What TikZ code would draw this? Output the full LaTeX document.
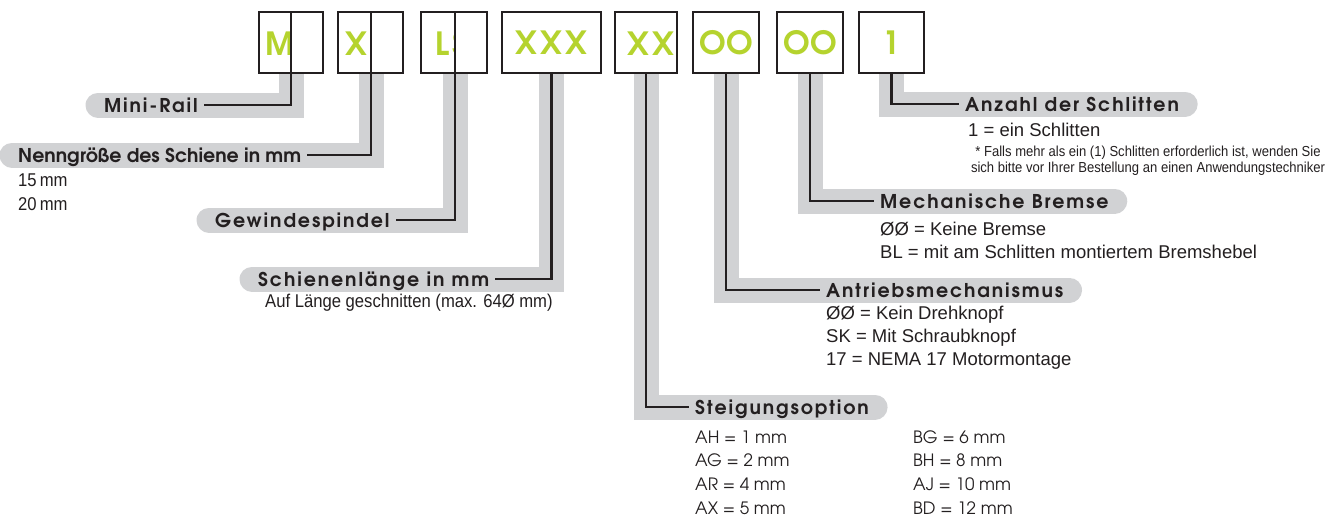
\documentclass[tikz,border=0pt]{standalone}
\usepackage{fontspec}
\setmainfont{Liberation Sans}
\newfontfamily\headfont{texgyreadventor}[Extension=.otf,UprightFont=*-regular,BoldFont=*-bold,LetterSpace=10]
\newfontfamily\headtight{texgyreadventor}[Extension=.otf,UprightFont=*-regular,BoldFont=*-bold]
\newfontfamily\narrowfont{Liberation Sans}[FakeStretch=0.9]
\usetikzlibrary{positioning,backgrounds}
\definecolor{lime}{RGB}{181,211,46}
\definecolor{band}{RGB}{209,210,212}
\definecolor{ink}{RGB}{35,31,32}

\begin{document}
\begin{tikzpicture}[x=1pt,y=-1pt,
            codebox/.style={
              draw=ink, line width=2.4, fill=white, outer sep=0,
              minimum height=61, inner sep=0, anchor=north west,
              text=lime, text height=23, text depth=0,
              font=\headfont\bfseries\fontsize{32}{32}\selectfont
            },
            code/.style={
              text=lime, inner sep=0, anchor=base west,
              font=\headfont\bfseries\fontsize{32}{32}\selectfont
            },
            head/.style={
              font=\headfont\bfseries\fontsize{19}{19}\selectfont,
              text=ink, inner xsep=6, inner ysep=0,
              text height=14, text depth=0
            },
            note/.style={
              font=\fontsize{18.5}{22}\selectfont,
              text=ink, inner sep=0, anchor=west, align=left
            },
            small/.style={
              font=\narrowfont\fontsize{18.5}{24}\selectfont,
              text=ink, inner sep=0, anchor=west, align=left
            },
            opt/.style={
              font=\headtight\fontsize{17}{24}\selectfont,
              text=ink, inner sep=0, anchor=west
            },
            wire/.style={draw=ink, line width=2.4, line join=miter},
            bandline/.style={draw=band, line width=25, line cap=round, line join=miter}
        ]
\useasboundingbox (0,0) rectangle (1331,517);

% code boxes
\node[codebox, minimum width=32] (bM1) at (259,12) {};
\node[code] (tM) at (265,55) {MR};
\node[codebox, minimum width=32] (bM2) at (bM1.north east) {};
\node[codebox, minimum width=33] (bX1) at (338,12) {};
\node[code] (tX) at (345,55) {X};
\node[codebox, minimum width=32] (bX2) at (bX1.north east) {};
\node[codebox, minimum width=34] (bL1) at (421,12) {};
\node[code] (tL) at (435,55) {LS};
\node[codebox, minimum width=32] (bL2) at (bL1.north east) {};
\node[codebox, minimum width=99] (bXXX) at (502,12) {XXX};
\node[codebox, draw=none, minimum width=62] (bXX) at (615,12) {};
\begin{scope}
  \clip (bXX.north west) rectangle (bXX.south east);
  \node[code] (tXX) at (627,55) {XX};
\end{scope}
\draw[ink, line width=2.4] (bXX.north west) rectangle (bXX.south east);
\node[codebox, font=\headtight\bfseries\fontsize{32}{32}\selectfont, minimum width=66] (bDrive) at (693,12) {OO};
\node[codebox, font=\headtight\bfseries\fontsize{32}{32}\selectfont, minimum width=66] (bBrake) at (777,12) {OO};
\node[codebox, minimum width=65] (bCount) at (859,12) {1};

% headings
\node[head, anchor=west] (lMini) at (98,105) {Mini-Rail};
\node[head, font=\headtight\bfseries\fontsize{19}{19}\selectfont, anchor=west] (lSize) at (12,155) {Nenngröße des Schiene in mm};
\node[head, anchor=west] (lSpindle) at (209,220) {Gewindespindel};
\node[head, anchor=west] (lLength) at (252,279) {Schienenlänge in mm};
\node[head, anchor=west] (lCount) at (959,104) {Anzahl der Schlitten};
\node[head, anchor=west] (lBrake) at (874,201) {Mechanische Bremse};
\node[head, anchor=west] (lDrive) at (820,290) {Antriebsmechanismus};
\node[head, anchor=west] (lPitch) at (689,407) {Steigungsoption};

% grey bands
\begin{scope}[on background layer]
\draw[bandline] (bM1.south east) |- (lMini.west);
\draw[bandline] (bX1.south east) |- (lSize.west);
\draw[bandline] (bL1.south east) |- (lSpindle.west);
\draw[bandline] (bXXX.south) |- (lLength.west);
\draw[bandline] (bXX.south) |- (lPitch.east);
\draw[bandline] (bDrive.south) |- (lDrive.east);
\draw[bandline] (bBrake.south) |- (lBrake.east);
\draw[bandline] (bCount.south) |- (lCount.east);
\end{scope}

% leader lines
\draw[wire] (bM1.south east) |- (lMini.east);
\draw[wire] (bX1.south east) |- (lSize.east);
\draw[wire] (bL1.south east) |- (lSpindle.east);
\draw[wire] (bXXX.south) |- (lLength.east);
\draw[wire] (bXX.south) |- (lPitch.west);
\draw[wire] (bDrive.south) |- (lDrive.west);
\draw[wire] (bBrake.south) |- (lBrake.west);
\draw[wire] (bCount.south) |- (lCount.west);

% option texts
\node[small] (n15) at (18,180) {15\,mm};
\node[small] (n20) at (18,204) {20\,mm};
\node[small] (nCut) at (265,303) {Auf Länge geschnitten (max. 64Ø mm)};
\node[note] (nOne) at (968,130) {1 = ein Schlitten};
\node[font=\narrowfont\fontsize{14.5}{16}\selectfont, text=ink, inner sep=0, align=center] (nHint) at (1148,161)
  {* Falls mehr als ein (1) Schlitten erforderlich ist, wenden Sie\\sich bitte vor Ihrer Bestellung an einen Anwendungstechniker};
\node[note] (nB0) at (880,229) {ØØ = Keine Bremse};
\node[note] (nBL) at (880,252) {BL = mit am Schlitten montiertem Bremshebel};
\node[note] (nD0) at (826,315) {ØØ = Kein Drehknopf};
\node[note] (nSK) at (826,338) {SK = Mit Schraubknopf};
\node[note] (n17) at (826,361) {17 = NEMA 17 Motormontage};
\foreach \i/\a/\b in {0/AH = 1 mm/BG = 6 mm, 1/AG = 2 mm/BH = 8 mm, 2/AR = 4 mm/AJ = 10 mm, 3/AX = 5 mm/BD = 12 mm}{
  \node[opt] (pa\i) at (695, {437+\i*23.7}) {\a};
  \node[opt] (pb\i) at (913, {437+\i*23.7}) {\b};
}

\end{tikzpicture}
\end{document}
